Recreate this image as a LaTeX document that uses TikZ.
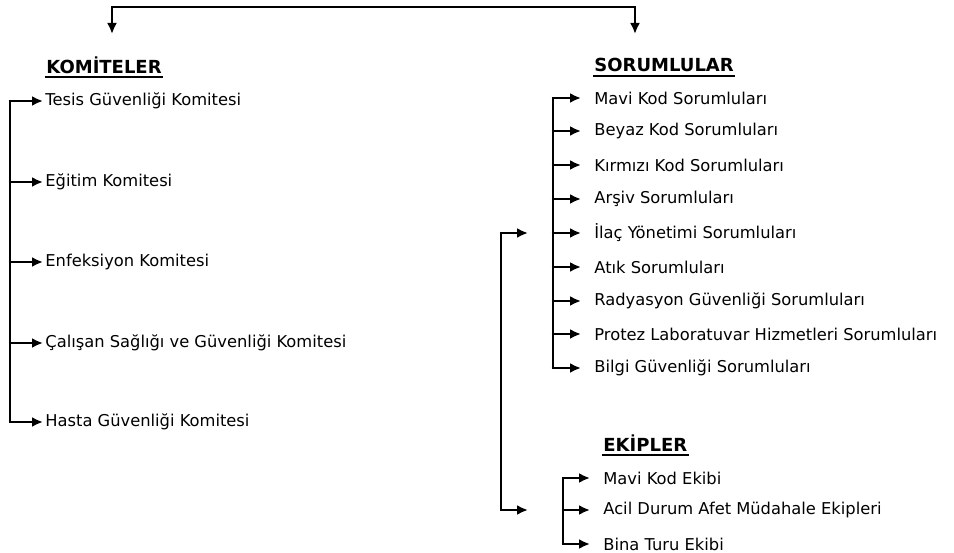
\documentclass[tikz,border=0pt]{standalone}
\usepackage{fontspec}
\setmainfont{DejaVu Sans}
\usetikzlibrary{arrows.meta}
\begin{document}
\begin{tikzpicture}[x=1pt,y=-1pt,
  line width=2.8pt,
  arr/.style={-{Latex[length=11pt,width=10pt]}},
  darr/.style={{Latex[length=11pt,width=10pt]}-{Latex[length=11pt,width=10pt]}},
  item/.style={anchor=west,inner sep=0pt,font=\fontsize{16.3}{18}\selectfont},
  head/.style={anchor=west,inner sep=0pt,font=\fontsize{18}{20}\selectfont\bfseries},
  uline/.style={line width=1.8pt}]
\useasboundingbox (0,0) rectangle (954,553);
% headings
\node[head] (hk) at (45,65) {KOMİTELER};
\node[head] (hs) at (593,65) {SORUMLULAR};
\node[head] (he) at (602,443) {EKİPLER};
\foreach \h in {hk,hs,he}
  \draw[uline] ([yshift=-2.5pt]\h.south west) -- ([yshift=-2.5pt]\h.south east);
% top connector
\coordinate (kt) at (112,34);
\coordinate (st) at (635,34);
\draw[darr] (kt) -- (112,7) -- (635,7) -- (st);
% committees
\node[item] (k1) at (44,101) {Tesis Güvenliği Komitesi};
\node[item] (k2) at (44,182) {Eğitim Komitesi};
\node[item] (k3) at (44,262) {Enfeksiyon Komitesi};
\node[item] (k4) at (44,343) {Çalışan Sağlığı ve Güvenliği Komitesi};
\node[item] (k5) at (44,422) {Hasta Güvenliği Komitesi};
\coordinate (ks) at (10,0);
\draw (ks |- k1.west) -- (ks |- k5.west);
\foreach \n in {k1,k2,k3,k4,k5}
  \draw[arr] ([xshift=-1.4pt]ks |- \n.west) -- ([xshift=-1pt]\n.west);
% responsibles
\node[item] (s1) at (593,98) {Mavi Kod Sorumluları};
\node[item] (s2) at (593,131) {Beyaz Kod Sorumluları};
\node[item] (s3) at (593,165) {Kırmızı Kod Sorumluları};
\node[item] (s4) at (593,199) {Arşiv Sorumluları};
\node[item] (s5) at (593,233) {İlaç Yönetimi Sorumluları};
\node[item] (s6) at (593,267) {Atık Sorumluları};
\node[item] (s7) at (593,301) {Radyasyon Güvenliği Sorumluları};
\node[item] (s8) at (593,334) {Protez Laboratuvar Hizmetleri Sorumluları};
\node[item] (s9) at (593,368) {Bilgi Güvenliği Sorumluları};
\coordinate (ss) at (553,0);
\draw (ss |- s1.west) -- (ss |- s9.west);
\foreach \n in {s1,s2,s3,s4,s5,s6,s7,s8,s9}
  \draw[arr] ([xshift=-1.4pt]ss |- \n.west) -- ([xshift=-12pt]\n.west);
% teams
\node[item] (e1) at (602,478) {Mavi Kod Ekibi};
\node[item] (e2) at (602,510) {Acil Durum Afet Müdahale Ekipleri};
\node[item] (e3) at (602,544) {Bina Turu Ekibi};
\coordinate (es) at (563,0);
\draw (es |- e1.west) -- (es |- e3.west);
\foreach \n in {e1,e2,e3}
  \draw[arr] ([xshift=-1.4pt]es |- \n.west) -- ([xshift=-12pt]\n.west);
% outer bracket
\coordinate (ot) at (528,233);
\coordinate (ob) at (528,510);
\draw[darr] (ot) -- (501,233) -- (501,510) -- (ob);
\end{tikzpicture}
\end{document}
